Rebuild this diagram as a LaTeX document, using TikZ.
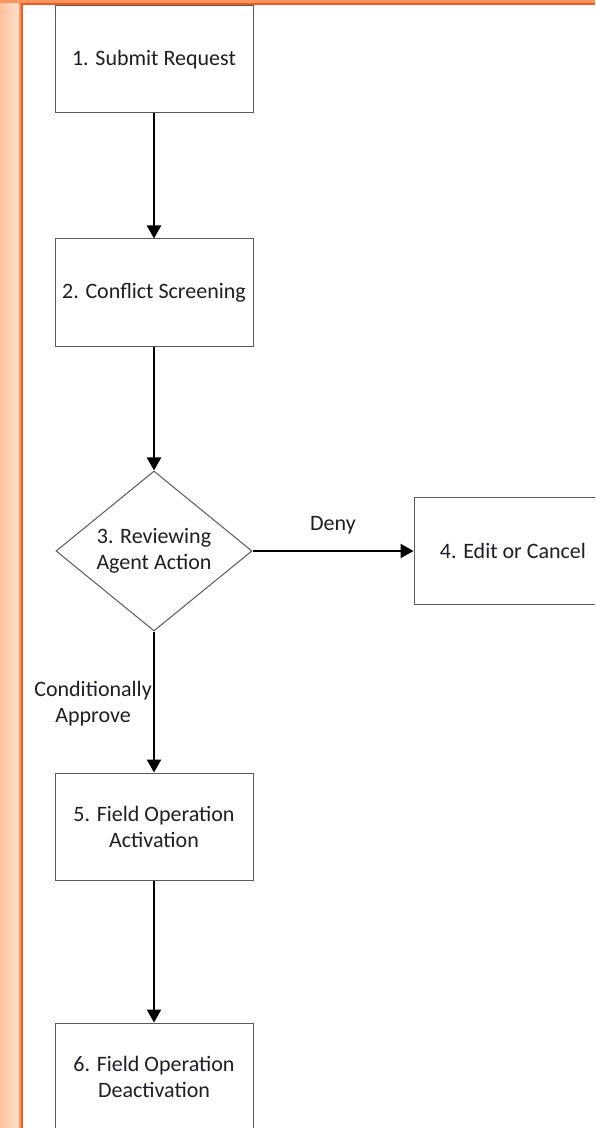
\documentclass[tikz,border=0pt]{standalone}
\usepackage{fontspec}
\setmainfont{Carlito}
\usetikzlibrary{shapes.geometric,arrows.meta,positioning}

\definecolor{frameline}{HTML}{F25A1E}
\definecolor{framelight}{HTML}{FA9560}
\definecolor{glowouter}{HTML}{FCC29A}
\definecolor{glowinner}{HTML}{FDE2D0}
\definecolor{boxline}{HTML}{5A5A5A}
\definecolor{txt}{HTML}{1E1E28}

\begin{document}
\begin{tikzpicture}
[x=0.5pt,y=-0.5pt,->,>={Triangle[length=6.5pt,width=7pt]},line width=1.2pt,
 font=\fontsize{11}{13}\selectfont,text=txt]

  \tikzstyle{process}=[draw=boxline,line width=0.5pt,fill=white,align=center,
                       minimum width=99pt,minimum height=53.5pt,inner sep=2pt]
  \tikzstyle{decision}=[process,diamond,aspect=1.225,inner sep=0pt,
                        minimum width=98pt,minimum height=80pt]

  \useasboundingbox (0,0) rectangle (595,1128);
  \clip (0,0) rectangle (595,1128);

  % orange frame with glow on the left
  \fill[left color=glowouter,right color=glowinner] (0,0) rectangle (20,1128);
  \fill[framelight] (0,0) rectangle (595,3);
  \draw[-,framelight,line width=1pt] (20,1128) -- (20,2);
  \draw[-,frameline,line width=1pt] (22,1128) -- (22,4) -- (595,4);

  \node[process]          (submit) at (154,59.5)          {1. Submit Request};
  \node[process]          (screen) [below=62.5pt of submit] {2. Conflict Screening};
  \node[decision]         (review) [below=62pt of screen]   {3. Reviewing\\Agent Action};
  \node[process]          (edit)   [right=80.5pt of review] {4. Edit or Cancel};
  \node[process]          (activ)  [below=70.5pt of review] {5. Field Operation\\Activation};
  \node[process]          (deact)  [below=71pt of activ]    {6. Field Operation\\Deactivation};

  \path (submit) edge (screen)
        (screen) edge (review)
        (review) edge node[above=4.5pt] {Deny} (edit)
                 edge node[left,align=center,inner sep=0.5pt,yshift=-1pt] {Conditionally\\Approve} (activ)
        (activ)  edge (deact);
\end{tikzpicture}
\end{document}
